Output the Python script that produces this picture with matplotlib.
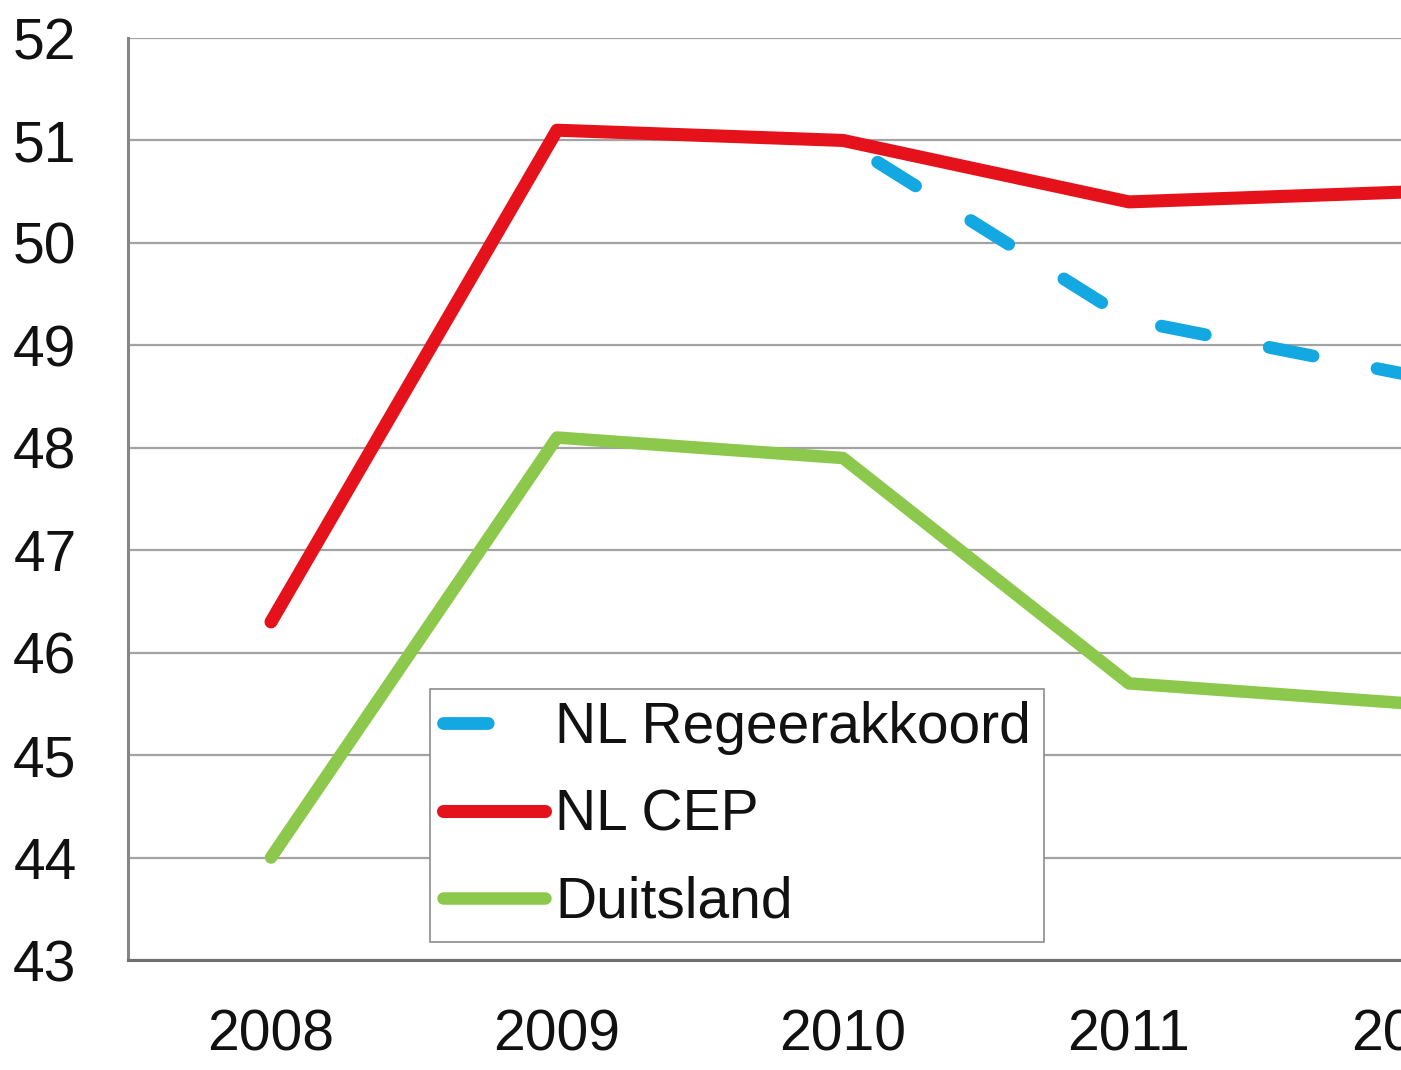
import matplotlib
matplotlib.use("Agg")
import matplotlib.pyplot as plt
from matplotlib.lines import Line2D

# values (chart is cut off just past 2012)
years = [2008, 2009, 2010, 2011, 2012]
nl_cep = [46.3, 51.1, 51.0, 50.4, 50.5]
regeer_years = [2010, 2011, 2012]
nl_regeerakkoord = [51.0, 49.25, 48.7]
duitsland = [44.0, 48.1, 47.9, 45.7, 45.5]
y_ticks = list(range(43, 53))

BLUE = "#13A8E2"
RED = "#E5121B"
GREEN = "#8CC84B"
DASH = (3.5, 5.1)

plt.rcParams["font.family"] = ["Liberation Sans", "DejaVu Sans"]

W, H = 1401, 1070
fig = plt.figure(figsize=(W / 100, H / 100), dpi=100)
fig.patch.set_facecolor("white")

# axes: left spine at x=128 px, 43 at y=960, 52 at y=38; one category = 286 px
left, right_px = 128, 128 + 286 * 5
ax = fig.add_axes([left / W, (H - 960) / H, (right_px - left) / W, 922 / H])

ax.plot(regeer_years, nl_regeerakkoord, color=BLUE, lw=9.2,
        linestyle=(5.4, DASH), dash_capstyle="round", zorder=3)
ax.plot(years, nl_cep, color=RED, lw=9.4, solid_capstyle="round",
        solid_joinstyle="round", zorder=4)
ax.plot(years, duitsland, color=GREEN, lw=9.0, solid_capstyle="round",
        solid_joinstyle="round", zorder=3)

ax.set_xlim(2007.5, 2012.5)
ax.set_ylim(43, 52)
ax.set_yticks(y_ticks)
ax.set_xticks(years)
ax.set_xticklabels([str(y) for y in years])
ax.yaxis.grid(True, color="#A3A3A3", lw=1.6)
ax.set_axisbelow(True)

for side in ("top", "right"):
    ax.spines[side].set_visible(False)
ax.spines["left"].set_color("#868686")
ax.spines["left"].set_linewidth(2.2)
ax.spines["bottom"].set_color("#707070")
ax.spines["bottom"].set_linewidth(2.2)

ax.tick_params(axis="both", length=0, labelsize=41, colors="#111111")
ax.tick_params(axis="y", pad=37)
ax.tick_params(axis="x", pad=35)

# legend handles: same styles, dash pattern starting with a dash
handles = [
    Line2D([], [], color=BLUE, lw=9.2, dashes=DASH, dash_capstyle="round"),
    Line2D([], [], color=RED, lw=9.4, solid_capstyle="round"),
    Line2D([], [], color=GREEN, lw=9.0, solid_capstyle="round"),
]
labels = ["NL Regeerakkoord", "NL CEP", "Duitsland"]
leg = ax.legend(handles, labels, loc="lower left",
                bbox_to_anchor=((430 - left) / (right_px - left), (960 - 942) / 922),
                borderaxespad=0, fontsize=41, frameon=True, fancybox=False,
                handlelength=1.8, handletextpad=0.18, labelspacing=0.58,
                borderpad=0.22)
frame = leg.get_frame()
frame.set_edgecolor("#8C8C8C")
frame.set_linewidth(1.2)
frame.set_facecolor("white")
frame.set_alpha(1)
for t in leg.get_texts():
    t.set_color("#111111")

fig.savefig("out.png", dpi=100)
